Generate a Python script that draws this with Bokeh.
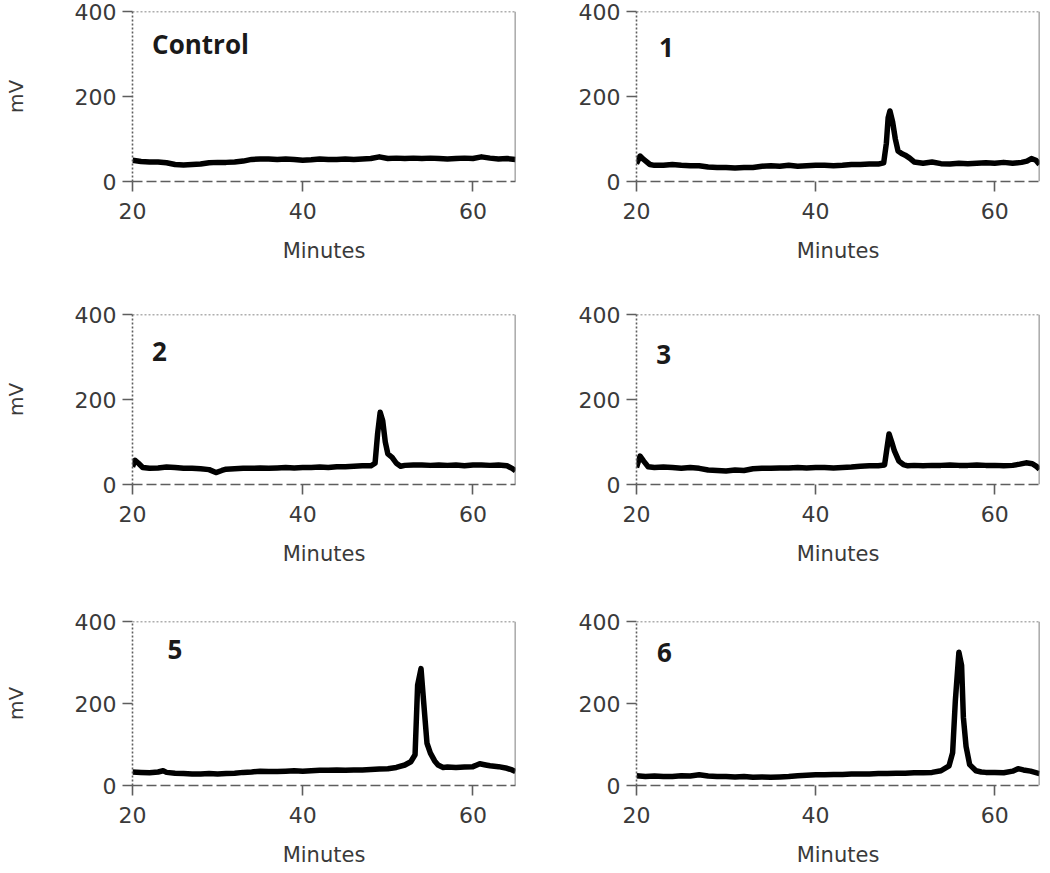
from bokeh.plotting import figure
from bokeh.models import Range1d, Span, FixedTicker, Label
from bokeh.layouts import column, row
from bokeh.embed import file_html
from bokeh.resources import INLINE

# ---- data: (minutes, mV) ----
control = [(20, 50), (21, 47), (22, 46), (23, 46), (24, 44), (25, 40), (26, 39), (27, 40), (28, 41),
           (29, 44), (30, 45), (31, 45), (32, 46), (33, 48), (34, 52), (35, 53), (36, 53), (37, 52),
           (38, 53), (39, 52), (40, 50), (41, 51), (42, 53), (43, 52), (44, 52), (45, 53), (46, 52),
           (47, 53), (48, 54), (49, 58), (50, 54), (51, 55), (52, 54), (53, 55), (54, 54), (55, 55),
           (56, 54), (57, 53), (58, 54), (59, 55), (60, 54), (61, 58), (62, 55), (63, 53), (64, 54), (65, 52)]

sample1 = [(20, 42), (20.4, 60), (20.8, 52), (21.5, 40), (22, 38), (23, 38), (24, 40), (25, 38), (26, 37),
           (27, 37), (28, 34), (29, 33), (30, 33), (31, 32), (32, 33), (33, 33), (34, 36), (35, 37),
           (36, 36), (37, 38), (38, 36), (39, 37), (40, 38), (41, 38), (42, 37), (43, 38), (44, 40),
           (45, 40), (46, 41), (47, 41), (47.6, 44), (47.9, 90), (48.1, 150), (48.3, 166), (48.6, 140),
           (48.9, 100), (49.2, 72), (49.6, 66), (50.0, 62), (50.5, 55), (51, 46), (52, 43), (53, 46),
           (54, 42), (55, 41), (56, 43), (57, 42), (58, 43), (59, 44), (60, 43), (61, 45), (62, 43),
           (63, 45), (63.6, 48), (64.1, 54), (64.6, 50), (65, 40)]

sample2 = [(20, 42), (20.3, 57), (20.7, 50), (21.2, 40), (22, 38), (23, 39), (24, 41), (25, 40), (26, 38),
           (27, 38), (28, 37), (29, 35), (29.8, 28), (30.5, 33), (31, 36), (32, 37), (33, 38), (34, 38),
           (35, 39), (36, 38), (37, 39), (38, 40), (39, 39), (40, 40), (41, 40), (42, 41), (43, 40),
           (44, 42), (45, 42), (46, 43), (47, 44), (48, 44), (48.5, 50), (48.8, 120), (49.1, 170),
           (49.4, 150), (49.7, 100), (50.0, 72), (50.5, 64), (51, 50), (51.5, 43), (52, 45), (53, 46),
           (54, 46), (55, 45), (56, 46), (57, 45), (58, 46), (59, 44), (60, 46), (61, 46), (62, 45),
           (63, 46), (64, 44), (64.6, 38), (65, 32)]

sample3 = [(20, 40), (20.4, 67), (20.8, 55), (21.3, 42), (22, 40), (23, 41), (24, 40), (25, 38), (26, 40),
           (27, 38), (28, 34), (29, 33), (30, 32), (31, 34), (32, 33), (33, 37), (34, 38), (35, 38),
           (36, 39), (37, 39), (38, 40), (39, 39), (40, 40), (41, 40), (42, 39), (43, 40), (44, 41),
           (45, 43), (46, 44), (47, 44), (47.7, 46), (48.0, 90), (48.2, 119), (48.5, 100), (48.8, 79),
           (49.3, 55), (49.8, 47), (50.3, 44), (51, 45), (52, 44), (53, 45), (54, 45), (55, 46), (56, 45),
           (57, 45), (58, 46), (59, 45), (60, 45), (61, 44), (62, 45), (62.8, 48), (63.5, 51), (64.2, 49),
           (64.7, 42), (65, 36)]

sample5 = [(20, 33), (21, 32), (22, 31), (23, 33), (23.6, 36), (24, 32), (25, 30), (26, 29), (27, 28),
           (28, 28), (29, 29), (30, 28), (31, 29), (32, 30), (33, 32), (34, 33), (35, 35), (36, 34),
           (37, 34), (38, 35), (39, 36), (40, 35), (41, 36), (42, 37), (43, 37), (44, 38), (45, 37),
           (46, 38), (47, 38), (48, 39), (49, 40), (50, 41), (51, 44), (52, 50), (52.7, 58), (53.2, 75),
           (53.5, 245), (53.9, 285), (54.2, 206), (54.6, 103), (55.0, 79), (55.5, 60), (55.9, 50),
           (56.5, 44), (57, 45), (58, 44), (59, 45), (60, 46), (60.8, 53), (61.5, 50), (62, 48), (63, 46),
           (64, 42), (64.6, 38), (65, 34)]

sample6 = [(20, 24), (21, 22), (22, 23), (23, 22), (24, 22), (25, 24), (26, 23), (27, 26), (28, 23),
           (29, 22), (30, 22), (31, 21), (32, 22), (33, 20), (34, 21), (35, 20), (36, 21), (37, 22),
           (38, 24), (39, 25), (40, 26), (41, 26), (42, 27), (43, 27), (44, 28), (45, 28), (46, 28),
           (47, 29), (48, 29), (49, 30), (50, 30), (51, 31), (52, 31), (53, 32), (54, 36), (54.9, 48),
           (55.3, 80), (55.6, 206), (56.0, 325), (56.3, 293), (56.5, 166), (56.8, 95), (57.2, 51),
           (57.9, 36), (58.5, 33), (59, 32), (60, 32), (61, 31), (62, 35), (62.6, 41), (63.2, 38),
           (64, 35), (65, 29)]

panel_names = ["Control", "1", "2", "3", "5", "6"]
panel_series = [control, sample1, sample2, sample3, sample5, sample6]
x_ticks = [20, 40, 60]
y_ticks = [0, 200, 400]
x_title = "Minutes"
y_title = "mV"

# ---- layout / style (not data) ----
label_pos = [(22.3, 324), (22.5, 316), (22.3, 312), (22.2, 305), (24.1, 331), (22.3, 324)]
row_bottom = [122, 126, 78]
AX = "#5e5e5e"
TXT = "#3a3a3a"
FONT = "DejaVu Sans"


def make_panel(i):
    left_col = (i % 2 == 0)
    width = 575 if left_col else 466
    mbl = 129 if left_col else 60
    mbr = 60 if left_col else 2
    mbt = 11
    mbb = row_bottom[i // 2]
    height = mbt + 170 + mbb
    p = figure(width=width, height=height, x_range=Range1d(20, 65), y_range=Range1d(0, 400),
               output_backend="svg", toolbar_location=None,
               min_border_left=mbl, min_border_right=mbr, min_border_top=mbt, min_border_bottom=mbb)
    p.grid.visible = False
    p.outline_line_color = None

    pts = panel_series[i]
    p.line([a for a, b in pts], [b for a, b in pts], line_width=5.5, line_color="black",
           line_join="round")

    # frame top (dotted) and right (solid)
    p.add_layout(Span(location=400, dimension="width", line_color=AX, line_width=1.6, line_dash="2 2"))
    p.add_layout(Span(location=65, dimension="height", line_color=AX, line_width=1.6))

    xa = p.xaxis[0]
    xa.ticker = FixedTicker(ticks=x_ticks)
    xa.axis_line_color = AX
    xa.axis_line_width = 1.6
    xa.axis_line_dash = "10 4"
    xa.major_tick_line_color = AX
    xa.major_tick_line_width = 1.6
    xa.major_tick_out = 10
    xa.major_tick_in = 0
    xa.minor_tick_line_color = None
    xa.major_label_text_font = FONT
    xa.major_label_text_font_size = "22px"
    xa.major_label_text_color = TXT
    xa.major_label_standoff = 11
    xa.axis_label = x_title
    xa.axis_label_text_font = FONT
    xa.axis_label_text_font_size = "21px"
    xa.axis_label_text_font_style = "normal"
    xa.axis_label_text_color = TXT
    xa.axis_label_standoff = 17

    ya = p.yaxis[0]
    ya.ticker = FixedTicker(ticks=y_ticks)
    ya.axis_line_color = AX
    ya.axis_line_width = 1.6
    ya.axis_line_dash = "2 2"
    ya.major_tick_line_color = AX
    ya.major_tick_line_width = 1.6
    ya.major_tick_out = 10
    ya.major_tick_in = 0
    ya.minor_tick_line_color = None
    ya.major_label_text_font = FONT
    ya.major_label_text_font_size = "22px"
    ya.major_label_text_color = TXT
    ya.major_label_standoff = 6
    if left_col:
        ya.axis_label = y_title
        ya.axis_label_text_font = FONT
        ya.axis_label_text_font_size = "20px"
        ya.axis_label_text_font_style = "normal"
        ya.axis_label_text_color = TXT
        ya.axis_label_standoff = 44

    lx, ly = label_pos[i]
    p.add_layout(Label(x=lx, y=ly, text=panel_names[i], text_font="Open Sans",
                       text_font_style="bold", text_font_size="26px", text_color="#1a1a1a",
                       text_baseline="middle", text_align="left"))
    return p


panels = [make_panel(i) for i in range(6)]
layout = column(row(panels[0], panels[1]), row(panels[2], panels[3]), row(panels[4], panels[5]))

open("out.html", "w").write(file_html(layout, INLINE))
